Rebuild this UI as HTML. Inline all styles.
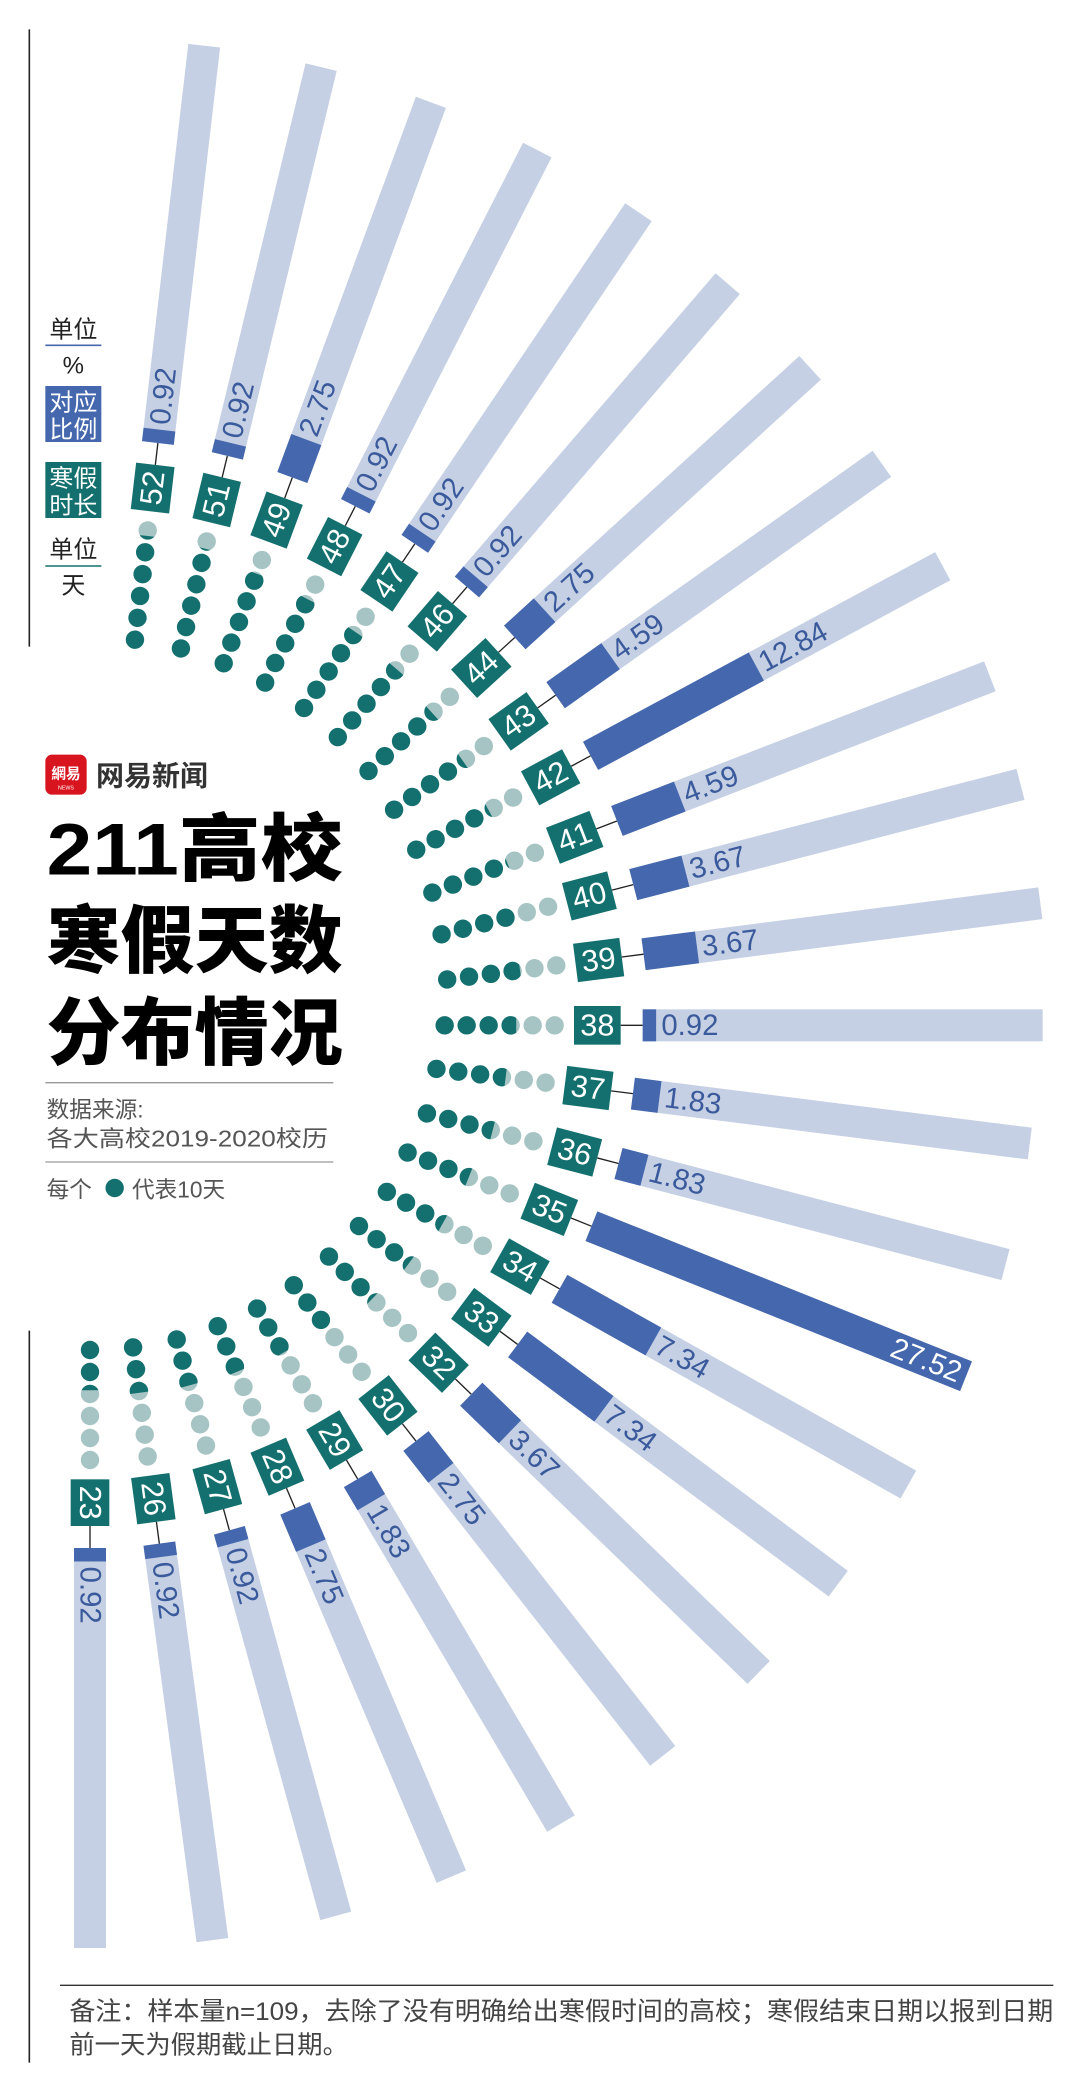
<!DOCTYPE html>
<html><head><meta charset="utf-8">
<style>
html,body{margin:0;padding:0;background:#fff;}
svg{display:block;}
.dk{fill:#14706f}.pl{fill:#a6c4c3}
.bx{fill:#14706f}
.n{fill:#fff;font-family:"Liberation Sans",sans-serif;font-size:23px;text-anchor:middle;dominant-baseline:central}
.ln{stroke:#222;stroke-width:1}
.pb{fill:#c6d0e4}.db{fill:#4467ad}
.v{fill:#3a5a9c;font-family:"Liberation Sans",sans-serif;font-size:22px;dominant-baseline:central}
.vw{fill:#fff;font-family:"Liberation Sans",sans-serif;font-size:22px;dominant-baseline:central;text-anchor:end}
.cj{font-family:"Liberation Sans","Noto Sans CJK SC",sans-serif}
circle{r:6.9px}
</style></head><body>
<svg width="1080" height="2094" viewBox="0 0 810 1570.5" preserveAspectRatio="none">
<defs>
<g id="s1" transform="scale(1.1)"><path d="M-5.04,-3.78 A6.3,6.3 0 0 0 -5.04,3.78 Z" class="dk"/></g>
<g id="s2" transform="scale(1.1)"><path d="M-3.78,-5.04 A6.3,6.3 0 0 0 -3.78,5.04 Z" class="dk"/></g>
<g id="s3" transform="scale(1.1)"><path d="M-2.52,-5.77 A6.3,6.3 0 0 0 -2.52,5.77 Z" class="dk"/></g>
<g id="s4" transform="scale(1.1)"><path d="M-1.26,-6.17 A6.3,6.3 0 0 0 -1.26,6.17 Z" class="dk"/></g>
<g id="s5" transform="scale(1.1)"><path d="M0,-6.3 A6.3,6.3 0 0 0 0,6.3 Z" class="dk"/></g>
<g id="s6" transform="scale(1.1)"><path d="M1.26,-6.17 A6.3,6.3 0 1 0 1.26,6.17 Z" class="dk"/></g>
<g id="s7" transform="scale(1.1)"><path d="M2.52,-5.77 A6.3,6.3 0 1 0 2.52,5.77 Z" class="dk"/></g>
<g id="s8" transform="scale(1.1)"><path d="M3.78,-5.04 A6.3,6.3 0 1 0 3.78,5.04 Z" class="dk"/></g>
<g id="s9" transform="scale(1.1)"><path d="M5.04,-3.78 A6.3,6.3 0 1 0 5.04,3.78 Z" class="dk"/></g>
</defs>

<!-- left rules -->
<line x1="22" y1="22" x2="22" y2="485" stroke="#222" stroke-width="1.2"/>
<line x1="22" y1="998" x2="22" y2="1547" stroke="#222" stroke-width="1.2"/>

<!-- 52 -->
<g transform="translate(67.5 769) rotate(-83.35) translate(405.7 0)">
<circle class="dk" cx="-114.5" r="6.9"/><circle class="dk" cx="-98" r="6.9"/><circle class="dk" cx="-81.5" r="6.9"/><circle class="dk" cx="-65" r="6.9"/><circle class="dk" cx="-48.5" r="6.9"/><circle class="pl" cx="-32" r="6.9"/><use href="#s2" x="-32"/>
<rect class="bx" x="-17.5" y="-14.5" width="35" height="29"/><text class="n" x="0" y="0">52</text>
<line class="ln" x1="17.5" y1="0" x2="34" y2="0"/>
<rect class="pb" x="34" y="-12" width="300" height="24"/><rect class="db" x="34" y="-12" width="10.1" height="24"/>
<text class="v" x="48" y="0">0.92</text></g>
<!-- 51 -->
<g transform="translate(67.5 769) rotate(-76.44) translate(405.3 0)">
<circle class="dk" cx="-114.5" r="6.9"/><circle class="dk" cx="-98" r="6.9"/><circle class="dk" cx="-81.5" r="6.9"/><circle class="dk" cx="-65" r="6.9"/><circle class="dk" cx="-48.5" r="6.9"/><circle class="pl" cx="-32" r="6.9"/><use href="#s1" x="-32"/>
<rect class="bx" x="-17.5" y="-14.5" width="35" height="29"/><text class="n" x="0" y="0">51</text>
<line class="ln" x1="17.5" y1="0" x2="34" y2="0"/>
<rect class="pb" x="34" y="-12" width="300" height="24"/><rect class="db" x="34" y="-12" width="10.1" height="24"/>
<text class="v" x="48" y="0">0.92</text></g>
<!-- 49 -->
<g transform="translate(67.5 769) rotate(-69.73) translate(404 0)">
<circle class="dk" cx="-114.5" r="6.9"/><circle class="dk" cx="-98" r="6.9"/><circle class="dk" cx="-81.5" r="6.9"/><circle class="dk" cx="-65" r="6.9"/><circle class="pl" cx="-48.5" r="6.9"/><use href="#s9" x="-48.5"/><circle class="pl" cx="-32" r="6.9"/>
<rect class="bx" x="-17.5" y="-14.5" width="35" height="29"/><text class="n" x="0" y="0">49</text>
<line class="ln" x1="17.5" y1="0" x2="34" y2="0"/>
<rect class="pb" x="34" y="-12" width="300" height="24"/><rect class="db" x="34" y="-12" width="30.3" height="24"/>
<text class="v" x="68" y="0">2.75</text></g>
<!-- 48 -->
<g transform="translate(67.5 769) rotate(-62.93) translate(403.2 0)">
<circle class="dk" cx="-114.5" r="6.9"/><circle class="dk" cx="-98" r="6.9"/><circle class="dk" cx="-81.5" r="6.9"/><circle class="dk" cx="-65" r="6.9"/><circle class="pl" cx="-48.5" r="6.9"/><use href="#s8" x="-48.5"/><circle class="pl" cx="-32" r="6.9"/>
<rect class="bx" x="-17.5" y="-14.5" width="35" height="29"/><text class="n" x="0" y="0">48</text>
<line class="ln" x1="17.5" y1="0" x2="34" y2="0"/>
<rect class="pb" x="34" y="-12" width="300" height="24"/><rect class="db" x="34" y="-12" width="10.1" height="24"/>
<text class="v" x="48" y="0">0.92</text></g>
<!-- 47 -->
<g transform="translate(67.5 769) rotate(-56) translate(401.6 0)">
<circle class="dk" cx="-114.5" r="6.9"/><circle class="dk" cx="-98" r="6.9"/><circle class="dk" cx="-81.5" r="6.9"/><circle class="dk" cx="-65" r="6.9"/><circle class="pl" cx="-48.5" r="6.9"/><use href="#s7" x="-48.5"/><circle class="pl" cx="-32" r="6.9"/>
<rect class="bx" x="-17.5" y="-14.5" width="35" height="29"/><text class="n" x="0" y="0">47</text>
<line class="ln" x1="17.5" y1="0" x2="34" y2="0"/>
<rect class="pb" x="34" y="-12" width="300" height="24"/><rect class="db" x="34" y="-12" width="10.1" height="24"/>
<text class="v" x="48" y="0">0.92</text></g>
<!-- 46 -->
<g transform="translate(67.5 769) rotate(-49.31) translate(399.6 0)">
<circle class="dk" cx="-114.5" r="6.9"/><circle class="dk" cx="-98" r="6.9"/><circle class="dk" cx="-81.5" r="6.9"/><circle class="dk" cx="-65" r="6.9"/><circle class="pl" cx="-48.5" r="6.9"/><use href="#s6" x="-48.5"/><circle class="pl" cx="-32" r="6.9"/>
<rect class="bx" x="-17.5" y="-14.5" width="35" height="29"/><text class="n" x="0" y="0">46</text>
<line class="ln" x1="17.5" y1="0" x2="34" y2="0"/>
<rect class="pb" x="34" y="-12" width="300" height="24"/><rect class="db" x="34" y="-12" width="10.1" height="24"/>
<text class="v" x="48" y="0">0.92</text></g>
<!-- 44 -->
<g transform="translate(67.5 769) rotate(-42.4) translate(397.4 0)">
<circle class="dk" cx="-114.5" r="6.9"/><circle class="dk" cx="-98" r="6.9"/><circle class="dk" cx="-81.5" r="6.9"/><circle class="dk" cx="-65" r="6.9"/><circle class="pl" cx="-48.5" r="6.9"/><use href="#s4" x="-48.5"/><circle class="pl" cx="-32" r="6.9"/>
<rect class="bx" x="-17.5" y="-14.5" width="35" height="29"/><text class="n" x="0" y="0">44</text>
<line class="ln" x1="17.5" y1="0" x2="34" y2="0"/>
<rect class="pb" x="34" y="-12" width="300" height="24"/><rect class="db" x="34" y="-12" width="30.3" height="24"/>
<text class="v" x="68" y="0">2.75</text></g>
<!-- 43 -->
<g transform="translate(67.5 769) rotate(-35.34) translate(394.1 0)">
<circle class="dk" cx="-114.5" r="6.9"/><circle class="dk" cx="-98" r="6.9"/><circle class="dk" cx="-81.5" r="6.9"/><circle class="dk" cx="-65" r="6.9"/><circle class="pl" cx="-48.5" r="6.9"/><use href="#s3" x="-48.5"/><circle class="pl" cx="-32" r="6.9"/>
<rect class="bx" x="-17.5" y="-14.5" width="35" height="29"/><text class="n" x="0" y="0">43</text>
<line class="ln" x1="17.5" y1="0" x2="34" y2="0"/>
<rect class="pb" x="34" y="-12" width="300" height="24"/><rect class="db" x="34" y="-12" width="50.5" height="24"/>
<text class="v" x="88" y="0">4.59</text></g>
<!-- 42 -->
<g transform="translate(67.5 769) rotate(-28.3) translate(392.4 0)">
<circle class="dk" cx="-114.5" r="6.9"/><circle class="dk" cx="-98" r="6.9"/><circle class="dk" cx="-81.5" r="6.9"/><circle class="dk" cx="-65" r="6.9"/><circle class="pl" cx="-48.5" r="6.9"/><use href="#s2" x="-48.5"/><circle class="pl" cx="-32" r="6.9"/>
<rect class="bx" x="-17.5" y="-14.5" width="35" height="29"/><text class="n" x="0" y="0">42</text>
<line class="ln" x1="17.5" y1="0" x2="34" y2="0"/>
<rect class="pb" x="34" y="-12" width="300" height="24"/><rect class="db" x="34" y="-12" width="141.2" height="24"/>
<text class="v" x="179" y="0">12.84</text></g>
<!-- 41 -->
<g transform="translate(67.5 769) rotate(-21.2) translate(389.9 0)">
<circle class="dk" cx="-114.5" r="6.9"/><circle class="dk" cx="-98" r="6.9"/><circle class="dk" cx="-81.5" r="6.9"/><circle class="dk" cx="-65" r="6.9"/><circle class="pl" cx="-48.5" r="6.9"/><use href="#s1" x="-48.5"/><circle class="pl" cx="-32" r="6.9"/>
<rect class="bx" x="-17.5" y="-14.5" width="35" height="29"/><text class="n" x="0" y="0">41</text>
<line class="ln" x1="17.5" y1="0" x2="34" y2="0"/>
<rect class="pb" x="34" y="-12" width="300" height="24"/><rect class="db" x="34" y="-12" width="50.5" height="24"/>
<text class="v" x="88" y="0">4.59</text></g>
<!-- 40 -->
<g transform="translate(67.5 769) rotate(-14.52) translate(386.9 0)">
<circle class="dk" cx="-114.5" r="6.9"/><circle class="dk" cx="-98" r="6.9"/><circle class="dk" cx="-81.5" r="6.9"/><circle class="dk" cx="-65" r="6.9"/><circle class="pl" cx="-48.5" r="6.9"/><circle class="pl" cx="-32" r="6.9"/>
<rect class="bx" x="-17.5" y="-14.5" width="35" height="29"/><text class="n" x="0" y="0">40</text>
<line class="ln" x1="17.5" y1="0" x2="34" y2="0"/>
<rect class="pb" x="34" y="-12" width="300" height="24"/><rect class="db" x="34" y="-12" width="40.4" height="24"/>
<text class="v" x="78" y="0">3.67</text></g>
<!-- 39 -->
<g transform="translate(67.5 769) rotate(-7.32) translate(384.6 0)">
<circle class="dk" cx="-114.5" r="6.9"/><circle class="dk" cx="-98" r="6.9"/><circle class="dk" cx="-81.5" r="6.9"/><circle class="pl" cx="-65" r="6.9"/><use href="#s9" x="-65"/><circle class="pl" cx="-48.5" r="6.9"/><circle class="pl" cx="-32" r="6.9"/>
<rect class="bx" x="-17.5" y="-14.5" width="35" height="29"/><text class="n" x="0" y="0">39</text>
<line class="ln" x1="17.5" y1="0" x2="34" y2="0"/>
<rect class="pb" x="34" y="-12" width="300" height="24"/><rect class="db" x="34" y="-12" width="40.4" height="24"/>
<text class="v" x="78" y="0">3.67</text></g>
<!-- 38 -->
<g transform="translate(67.5 769) rotate(0) translate(380.5 0)">
<circle class="dk" cx="-114.5" r="6.9"/><circle class="dk" cx="-98" r="6.9"/><circle class="dk" cx="-81.5" r="6.9"/><circle class="pl" cx="-65" r="6.9"/><use href="#s8" x="-65"/><circle class="pl" cx="-48.5" r="6.9"/><circle class="pl" cx="-32" r="6.9"/>
<rect class="bx" x="-17.5" y="-14.5" width="35" height="29"/><text class="n" x="0" y="0">38</text>
<line class="ln" x1="17.5" y1="0" x2="34" y2="0"/>
<rect class="pb" x="34" y="-12" width="300" height="24"/><rect class="db" x="34" y="-12" width="10.1" height="24"/>
<text class="v" x="48" y="0">0.92</text></g>
<!-- 37 -->
<g transform="translate(67.5 769) rotate(7.17) translate(376.4 0)">
<circle class="dk" cx="-114.5" r="6.9"/><circle class="dk" cx="-98" r="6.9"/><circle class="dk" cx="-81.5" r="6.9"/><circle class="pl" cx="-65" r="6.9"/><use href="#s7" x="-65"/><circle class="pl" cx="-48.5" r="6.9"/><circle class="pl" cx="-32" r="6.9"/>
<rect class="bx" x="-17.5" y="-14.5" width="35" height="29"/><text class="n" x="0" y="0">37</text>
<line class="ln" x1="17.5" y1="0" x2="34" y2="0"/>
<rect class="pb" x="34" y="-12" width="300" height="24"/><rect class="db" x="34" y="-12" width="20.1" height="24"/>
<text class="v" x="58" y="0">1.83</text></g>
<!-- 36 -->
<g transform="translate(67.5 769) rotate(14.65) translate(375.7 0)">
<circle class="dk" cx="-114.5" r="6.9"/><circle class="dk" cx="-98" r="6.9"/><circle class="dk" cx="-81.5" r="6.9"/><circle class="pl" cx="-65" r="6.9"/><use href="#s6" x="-65"/><circle class="pl" cx="-48.5" r="6.9"/><circle class="pl" cx="-32" r="6.9"/>
<rect class="bx" x="-17.5" y="-14.5" width="35" height="29"/><text class="n" x="0" y="0">36</text>
<line class="ln" x1="17.5" y1="0" x2="34" y2="0"/>
<rect class="pb" x="34" y="-12" width="300" height="24"/><rect class="db" x="34" y="-12" width="20.1" height="24"/>
<text class="v" x="58" y="0">1.83</text></g>
<!-- 35 -->
<g transform="translate(67.5 769) rotate(21.83) translate(371.1 0)">
<circle class="dk" cx="-114.5" r="6.9"/><circle class="dk" cx="-98" r="6.9"/><circle class="dk" cx="-81.5" r="6.9"/><circle class="pl" cx="-65" r="6.9"/><use href="#s5" x="-65"/><circle class="pl" cx="-48.5" r="6.9"/><circle class="pl" cx="-32" r="6.9"/>
<rect class="bx" x="-17.5" y="-14.5" width="35" height="29"/><text class="n" x="0" y="0">35</text>
<line class="ln" x1="17.5" y1="0" x2="34" y2="0"/>
<rect class="db" x="34" y="-12" width="302.7" height="24"/>
<text class="vw" x="332" y="0">27.52</text></g>
<!-- 34 -->
<g transform="translate(67.5 769) rotate(29.3) translate(369.8 0)">
<circle class="dk" cx="-114.5" r="6.9"/><circle class="dk" cx="-98" r="6.9"/><circle class="dk" cx="-81.5" r="6.9"/><circle class="pl" cx="-65" r="6.9"/><use href="#s4" x="-65"/><circle class="pl" cx="-48.5" r="6.9"/><circle class="pl" cx="-32" r="6.9"/>
<rect class="bx" x="-17.5" y="-14.5" width="35" height="29"/><text class="n" x="0" y="0">34</text>
<line class="ln" x1="17.5" y1="0" x2="34" y2="0"/>
<rect class="pb" x="34" y="-12" width="300" height="24"/><rect class="db" x="34" y="-12" width="80.7" height="24"/>
<text class="v" x="118" y="0">7.34</text></g>
<!-- 33 -->
<g transform="translate(67.5 769) rotate(36.73) translate(366.2 0)">
<circle class="dk" cx="-114.5" r="6.9"/><circle class="dk" cx="-98" r="6.9"/><circle class="dk" cx="-81.5" r="6.9"/><circle class="pl" cx="-65" r="6.9"/><use href="#s3" x="-65"/><circle class="pl" cx="-48.5" r="6.9"/><circle class="pl" cx="-32" r="6.9"/>
<rect class="bx" x="-17.5" y="-14.5" width="35" height="29"/><text class="n" x="0" y="0">33</text>
<line class="ln" x1="17.5" y1="0" x2="34" y2="0"/>
<rect class="pb" x="34" y="-12" width="300" height="24"/><rect class="db" x="34" y="-12" width="80.7" height="24"/>
<text class="v" x="118" y="0">7.34</text></g>
<!-- 32 -->
<g transform="translate(67.5 769) rotate(44.06) translate(363.9 0)">
<circle class="dk" cx="-114.5" r="6.9"/><circle class="dk" cx="-98" r="6.9"/><circle class="dk" cx="-81.5" r="6.9"/><circle class="pl" cx="-65" r="6.9"/><use href="#s2" x="-65"/><circle class="pl" cx="-48.5" r="6.9"/><circle class="pl" cx="-32" r="6.9"/>
<rect class="bx" x="-17.5" y="-14.5" width="35" height="29"/><text class="n" x="0" y="0">32</text>
<line class="ln" x1="17.5" y1="0" x2="34" y2="0"/>
<rect class="pb" x="34" y="-12" width="300" height="24"/><rect class="db" x="34" y="-12" width="40.4" height="24"/>
<text class="v" x="78" y="0">3.67</text></g>
<!-- 30 -->
<g transform="translate(67.5 769) rotate(51.9) translate(362.2 0)">
<circle class="dk" cx="-114.5" r="6.9"/><circle class="dk" cx="-98" r="6.9"/><circle class="dk" cx="-81.5" r="6.9"/><circle class="pl" cx="-65" r="6.9"/><circle class="pl" cx="-48.5" r="6.9"/><circle class="pl" cx="-32" r="6.9"/>
<rect class="bx" x="-17.5" y="-14.5" width="35" height="29"/><text class="n" x="0" y="0">30</text>
<line class="ln" x1="17.5" y1="0" x2="34" y2="0"/>
<rect class="pb" x="34" y="-12" width="300" height="24"/><rect class="db" x="34" y="-12" width="30.3" height="24"/>
<text class="v" x="68" y="0">2.75</text></g>
<!-- 29 -->
<g transform="translate(67.5 769) rotate(59.46) translate(361.1 0)">
<circle class="dk" cx="-114.5" r="6.9"/><circle class="dk" cx="-98" r="6.9"/><circle class="pl" cx="-81.5" r="6.9"/><use href="#s9" x="-81.5"/><circle class="pl" cx="-65" r="6.9"/><circle class="pl" cx="-48.5" r="6.9"/><circle class="pl" cx="-32" r="6.9"/>
<rect class="bx" x="-17.5" y="-14.5" width="35" height="29"/><text class="n" x="0" y="0">29</text>
<line class="ln" x1="17.5" y1="0" x2="34" y2="0"/>
<rect class="pb" x="34" y="-12" width="300" height="24"/><rect class="db" x="34" y="-12" width="20.1" height="24"/>
<text class="v" x="58" y="0">1.83</text></g>
<!-- 28 -->
<g transform="translate(67.5 769) rotate(67) translate(359.6 0)">
<circle class="dk" cx="-114.5" r="6.9"/><circle class="dk" cx="-98" r="6.9"/><circle class="pl" cx="-81.5" r="6.9"/><use href="#s8" x="-81.5"/><circle class="pl" cx="-65" r="6.9"/><circle class="pl" cx="-48.5" r="6.9"/><circle class="pl" cx="-32" r="6.9"/>
<rect class="bx" x="-17.5" y="-14.5" width="35" height="29"/><text class="n" x="0" y="0">28</text>
<line class="ln" x1="17.5" y1="0" x2="34" y2="0"/>
<rect class="pb" x="34" y="-12" width="300" height="24"/><rect class="db" x="34" y="-12" width="30.3" height="24"/>
<text class="v" x="68" y="0">2.75</text></g>
<!-- 27 -->
<g transform="translate(67.5 769) rotate(74.57) translate(358.9 0)">
<circle class="dk" cx="-114.5" r="6.9"/><circle class="dk" cx="-98" r="6.9"/><circle class="pl" cx="-81.5" r="6.9"/><use href="#s7" x="-81.5"/><circle class="pl" cx="-65" r="6.9"/><circle class="pl" cx="-48.5" r="6.9"/><circle class="pl" cx="-32" r="6.9"/>
<rect class="bx" x="-17.5" y="-14.5" width="35" height="29"/><text class="n" x="0" y="0">27</text>
<line class="ln" x1="17.5" y1="0" x2="34" y2="0"/>
<rect class="pb" x="34" y="-12" width="300" height="24"/><rect class="db" x="34" y="-12" width="10.1" height="24"/>
<text class="v" x="48" y="0">0.92</text></g>
<!-- 26 -->
<g transform="translate(67.5 769) rotate(82.38) translate(358.2 0)">
<circle class="dk" cx="-114.5" r="6.9"/><circle class="dk" cx="-98" r="6.9"/><circle class="pl" cx="-81.5" r="6.9"/><use href="#s6" x="-81.5"/><circle class="pl" cx="-65" r="6.9"/><circle class="pl" cx="-48.5" r="6.9"/><circle class="pl" cx="-32" r="6.9"/>
<rect class="bx" x="-17.5" y="-14.5" width="35" height="29"/><text class="n" x="0" y="0">26</text>
<line class="ln" x1="17.5" y1="0" x2="34" y2="0"/>
<rect class="pb" x="34" y="-12" width="300" height="24"/><rect class="db" x="34" y="-12" width="10.1" height="24"/>
<text class="v" x="48" y="0">0.92</text></g>
<!-- 23 -->
<g transform="translate(67.5 769) rotate(90) translate(358 0)">
<circle class="dk" cx="-114.5" r="6.9"/><circle class="dk" cx="-98" r="6.9"/><circle class="pl" cx="-81.5" r="6.9"/><use href="#s3" x="-81.5"/><circle class="pl" cx="-65" r="6.9"/><circle class="pl" cx="-48.5" r="6.9"/><circle class="pl" cx="-32" r="6.9"/>
<rect class="bx" x="-17.5" y="-14.5" width="35" height="29"/><text class="n" x="0" y="0">23</text>
<line class="ln" x1="17.5" y1="0" x2="34" y2="0"/>
<rect class="pb" x="34" y="-12" width="300" height="24"/><rect class="db" x="34" y="-12" width="10.1" height="24"/>
<text class="v" x="48" y="0">0.92</text></g>

<!-- legend -->
<g class="cj" font-size="18" fill="#222" text-anchor="middle">
<text x="55" y="253">单位</text>
<line x1="34" y1="259" x2="76" y2="259" stroke="#4467ad" stroke-width="1.2"/>
<text x="55" y="280" font-family="Liberation Sans">%</text>
<rect x="34" y="289.5" width="42" height="42" fill="#4467ad"/>
<text x="55" y="308" fill="#fff">对应</text>
<text x="55" y="328" fill="#fff">比例</text>
<rect x="34" y="346.5" width="42" height="42" fill="#14706f"/>
<text x="55" y="365" fill="#fff">寒假</text>
<text x="55" y="385" fill="#fff">时长</text>
<text x="55" y="418">单位</text>
<line x1="34" y1="424.5" x2="76" y2="424.5" stroke="#14706f" stroke-width="1.2"/>
<text x="55" y="445">天</text>
</g>

<!-- logo & title -->
<rect x="34" y="566" width="31" height="30" rx="5" fill="#d8141f"/>
<text x="49.5" y="584" class="cj" font-size="11" fill="#fff" text-anchor="middle" font-weight="bold">網易</text>
<text x="49.5" y="592" font-family="Liberation Sans" font-size="4" fill="#fff" text-anchor="middle">NEWS</text>
<text x="72" y="589" class="cj" font-size="21" fill="#333" font-weight="bold">网易新闻</text>
<g class="cj" font-size="55" font-weight="900" fill="#000">
<text x="35" y="656" textLength="222" lengthAdjust="spacingAndGlyphs">211高校</text>
<text x="35" y="725" textLength="222" lengthAdjust="spacingAndGlyphs">寒假天数</text>
<text x="35" y="794" textLength="222" lengthAdjust="spacingAndGlyphs">分布情况</text>
</g>
<line x1="34" y1="812" x2="250" y2="812" stroke="#999" stroke-width="1"/>
<g class="cj" font-size="17" fill="#555">
<text x="35" y="838">数据来源:</text>
<text x="35" y="860" textLength="211" lengthAdjust="spacingAndGlyphs">各大高校2019-2020校历</text>
<text x="35" y="898">每个</text>
<text x="99" y="898">代表10天</text>
</g>
<line x1="34" y1="871.5" x2="250" y2="871.5" stroke="#999" stroke-width="1"/>
<circle cx="86" cy="891" r="7.3" fill="#14706f"/>

<!-- footnote -->
<line x1="45" y1="1489" x2="790" y2="1489" stroke="#333" stroke-width="1"/>
<g class="cj" font-size="19" fill="#444">
<text x="52" y="1515" textLength="738" lengthAdjust="spacingAndGlyphs">备注：样本量n=109，去除了没有明确给出寒假时间的高校；寒假结束日期以报到日期</text>
<text x="52" y="1540">前一天为假期截止日期。</text>
</g>
</svg>
</body></html>
